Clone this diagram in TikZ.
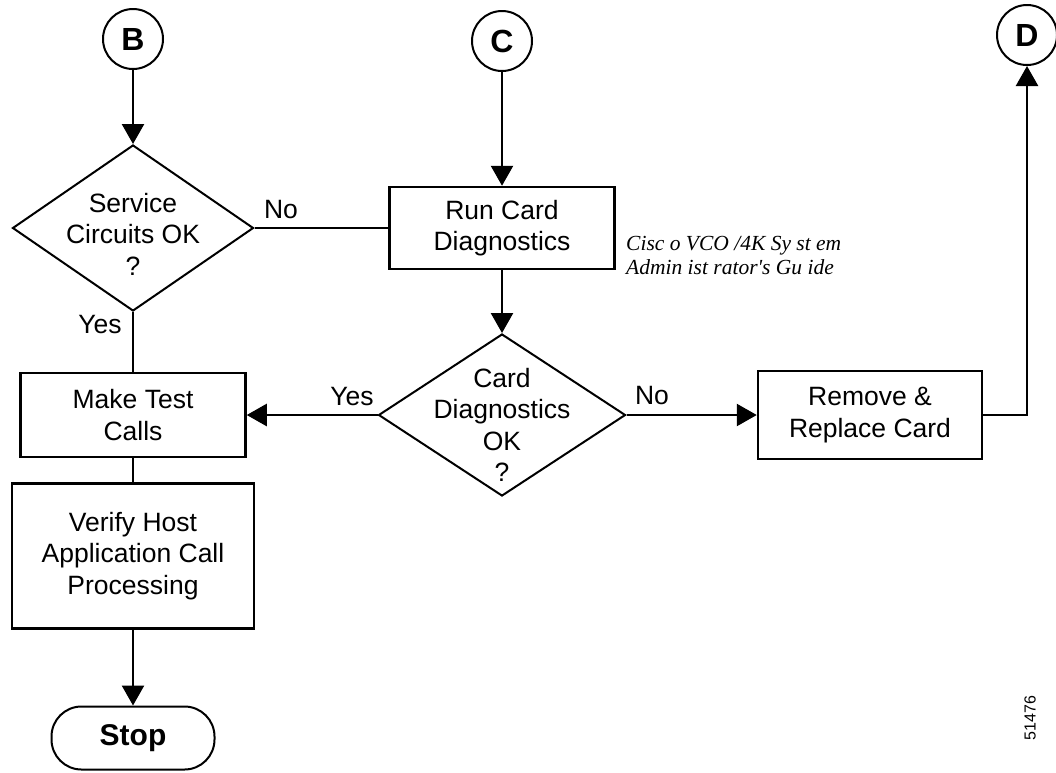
\documentclass[tikz,border=0pt]{standalone}
\usepackage{fontspec}
\setmainfont{Liberation Sans}
\newfontfamily\guidefont{Liberation Serif}
\usetikzlibrary{arrows.meta,shapes.geometric}

\begin{document}
\begin{tikzpicture}[x=1pt,y=-1pt,
  every node/.style={font=\fontsize{26.5}{31.5}\selectfont},
  box/.style={draw, line width=2.5pt, rectangle, inner sep=0pt, align=center},
  decision/.style={draw, line width=2pt, diamond, inner sep=0pt},
  dtext/.style={align=center, inner sep=0pt},
  conn/.style={draw, circle, line width=2pt, minimum size=60pt, inner sep=0pt,
    font=\fontsize{32}{32}\selectfont\bfseries},
  terminal/.style={draw, line width=2pt, rectangle, rounded corners=30pt,
    minimum width=163pt, minimum height=63pt, inner sep=0pt,
    font=\fontsize{30}{30}\selectfont\bfseries},
  flow/.style={line width=2.5pt},
  arr/.style={flow, -{Triangle[length=20pt,width=22pt]}},
  lbl/.style={inner sep=0pt},
]
\useasboundingbox (0,0) rectangle (1056,772);

% connectors (off-page references)
\node[conn] (B) at (133,39) {B};
\node[conn] (C) at (502,41) {C};
\node[conn] (D) at (1027,35) {D};

% decisions
\node[decision, minimum width=241pt, minimum height=166pt] (d1) at (133,228) {};
\node[dtext] (d1t) at (133,234) {Service\\Circuits OK\\?};
\node[decision, minimum width=247pt, minimum height=162pt] (d2) at (502,415) {};
\node[dtext] (d2t) at (502,425) {Card\\Diagnostics\\OK\\?};

% process boxes
\node[box, minimum width=225pt, minimum height=82pt] (run) at (502,228) {Run Card\\Diagnostics};
\node[box, minimum width=224pt, minimum height=88pt] (rem) at (870,415) {Remove \&\\Replace Card};
\node[box, minimum width=225pt, minimum height=84pt] (test) at (133,415) {Make Test\\Calls};
\node[box, minimum width=242pt, minimum height=145pt] (verify) at (133,556) {Verify Host\\Application Call\\Processing};
\node[terminal] (stop) at (133,738) {Stop};

% reference note
\node[lbl, anchor=west, align=left, font=\guidefont\itshape\fontsize{21.5}{24}\selectfont] (guide) at (626,255)
  {Cisc o VCO /4K Sy st em\\Admin ist rator's Gu ide};

% branch labels
\node[lbl] (no1) at (281,210) {No};
\node[lbl] (yes1) at (100,325) {Yes};
\node[lbl] (yes2) at (352,397) {Yes};
\node[lbl] (no2) at (652,396) {No};

% figure number
\node[lbl, rotate=90, font=\fontsize{16}{16}\selectfont] (fig) at (1030,718) {51476};

% flow lines
\draw[arr] (B.south) -- (d1.north);
\draw[flow] (d1.east) -- (run.west);
\draw[arr] (C.south) -- (run.north);
\draw[arr] (run.south) -- (d2.north);
\draw[arr] (d2.west) -- (test.east);
\draw[arr] (d2.east) -- (rem.west);
\draw[arr] (rem.east) -| (D.south);
\draw[flow] (d1.south) -- (test.north);
\draw[flow] (test.south) -- (verify.north);
\draw[arr] (verify.south) -- (stop.north);
\end{tikzpicture}
\end{document}
